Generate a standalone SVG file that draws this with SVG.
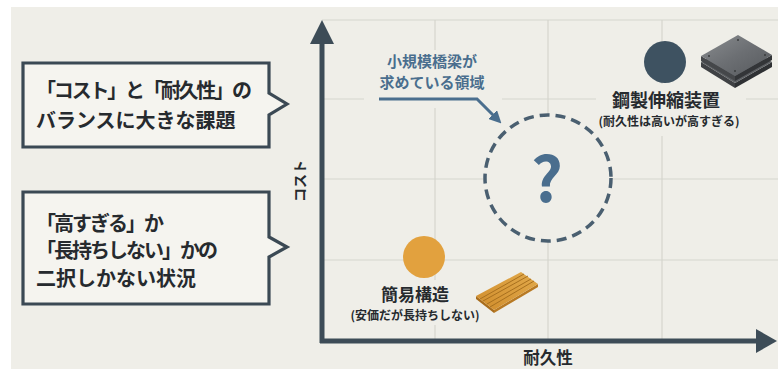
<svg xmlns="http://www.w3.org/2000/svg" width="778" height="369" viewBox="0 0 778 369">
  <defs>
    <style>
      .jp { font-family: "Noto Sans CJK JP", "Noto Sans", sans-serif; font-weight: 700; }
      .ink { fill: #262a2e; }
      .blue { fill: #4a6e8e; }
      .grid line { stroke: #d6d5cd; stroke-width: 1.2; }
      .box { fill: #f5f4ef; stroke: #3b4954; stroke-width: 3.2; stroke-linejoin: miter; }
      .axis { stroke: #3d4c57; stroke-width: 5; fill: none; }
      .axis-head { fill: #3d4c57; }
      .mask { fill: #efeee8; }
    </style>
    <marker id="arrow-blue" viewBox="0 0 10 10" refX="5" refY="5" markerWidth="4.2" markerHeight="4.2" orient="auto">
      <path d="M0,0 L10,5 L0,10 Z" fill="#4a6e8e"/>
    </marker>
    <linearGradient id="steel-top" x1="0" y1="0" x2="1" y2="1">
      <stop offset="0" stop-color="#8a8d90"/>
      <stop offset="0.5" stop-color="#6c6f73"/>
      <stop offset="1" stop-color="#56595d"/>
    </linearGradient>
    <linearGradient id="wood-top" x1="0" y1="1" x2="1" y2="0">
      <stop offset="0" stop-color="#d08d2c"/>
      <stop offset="1" stop-color="#e2aa4c"/>
    </linearGradient>
  </defs>

  <!-- page and panel background -->
  <rect width="778" height="369" fill="#ffffff"/>
  <rect x="11" y="7" width="767" height="362" fill="#efeee8"/>

  <!-- chart grid -->
  <g class="grid">
    <line x1="322" y1="20" x2="778" y2="20"/>
    <line x1="322" y1="99" x2="778" y2="99"/>
    <line x1="322" y1="179" x2="778" y2="179"/>
    <line x1="322" y1="260" x2="778" y2="260"/>
    <line x1="435" y1="20" x2="435" y2="341"/>
    <line x1="548" y1="20" x2="548" y2="341"/>
    <line x1="662" y1="20" x2="662" y2="341"/>
  </g>

  <!-- clear areas behind labels -->
  <rect class="mask" x="364" y="50" width="138" height="58"/>
  <rect class="mask" x="596" y="84" width="150" height="52"/>
  <rect class="mask" x="345" y="280" width="142" height="45"/>

  <!-- axes -->
  <g id="axes">
    <line class="axis" x1="322" y1="343" x2="322" y2="40"/>
    <polygon class="axis-head" points="310,44 322,20 334,44"/>
    <line class="axis" x1="320" y1="341" x2="758" y2="341"/>
    <polygon class="axis-head" points="756,329 777,341 756,353"/>
    <text class="jp ink" font-size="14" text-anchor="middle" transform="translate(305,181) rotate(-90)">コスト</text>
    <text class="jp ink" x="548" y="364" font-size="16.5" text-anchor="middle">耐久性</text>
  </g>

  <!-- callout boxes -->
  <g id="callout-balance">
    <path class="box" d="M23,63 H269 V93 L287,104 L269,115 V147 H23 Z"/>
    <text class="jp ink" x="36" y="98" font-size="20" textLength="216">「コスト」と「耐久性」の</text>
    <text class="jp ink" x="36" y="128" font-size="20">バランスに大きな課題</text>
  </g>
  <g id="callout-choice">
    <path class="box" d="M23,192 H269 V237 L287,247 L269,257 V304 H23 Z"/>
    <text class="jp ink" x="36" y="231" font-size="20" textLength="128">「高すぎる」か</text>
    <text class="jp ink" x="36" y="258" font-size="20" textLength="182">「長持ちしない」かの</text>
    <text class="jp ink" x="36" y="286" font-size="20">二択しかない状況</text>
  </g>

  <!-- target region -->
  <g id="target-region">
    <circle cx="548" cy="178" r="63" fill="#efeee8" stroke="#4a5f70" stroke-width="3.5" stroke-dasharray="10 6"/>
    <text class="jp blue" x="547" y="202" font-size="62" text-anchor="middle" font-family="'Noto Sans', sans-serif">?</text>
  </g>

  <g id="target-label">
    <text class="jp blue" x="432" y="67" font-size="15" text-anchor="middle">小規模橋梁が</text>
    <text class="jp blue" x="432" y="88" font-size="15" text-anchor="middle">求めている領域</text>
  </g>

  <!-- connectors -->
  <g id="connectors">
    <path d="M379,99 H477 L497,119" fill="none" stroke="#4a6e8e" stroke-width="3" marker-end="url(#arrow-blue)"/>
  </g>

  <!-- steel expansion joint -->
  <g id="node-steel">
    <circle cx="665" cy="62" r="21" fill="#3e5261"/>
    <!-- lower plate -->
    <polygon points="701,62 735,83 735,88 701,67" fill="#3f4144"/>
    <polygon points="735,83 772,62 772,67 735,88" fill="#2f3134"/>
    <polygon points="701,62 738,41 772,62 735,83" fill="#5c5f63"/>
    <!-- upper plate -->
    <polygon points="701,56 735,76 735,81 701,61" fill="#45474a"/>
    <polygon points="735,76 772,55 772,60 735,81" fill="#333538"/>
    <polygon points="701,56 738,35 772,55 735,76" fill="url(#steel-top)"/>
    <circle cx="709" cy="56" r="1" fill="#3a3c3e"/>
    <circle cx="738" cy="40" r="1" fill="#3a3c3e"/>
    <circle cx="765" cy="55" r="1" fill="#3a3c3e"/>
    <circle cx="735" cy="71" r="1" fill="#3a3c3e"/>
    <text class="jp ink" x="666" y="107" font-size="18" text-anchor="middle">鋼製伸縮装置</text>
    <text class="jp ink" x="669" y="126" font-size="12" text-anchor="middle">(耐久性は高いが高すぎる)</text>
  </g>

  <!-- simple structure -->
  <g id="node-simple">
    <circle cx="424" cy="257" r="21" fill="#e2a13e"/>
    <!-- wooden deck boards -->
    <polygon points="476,296 494,310 494,313 476,299" fill="#a86c1c"/>
    <polygon points="494,310 538,284 538,287 494,313" fill="#b87a24"/>
    <polygon points="476,296 521,272 538,284 494,310" fill="url(#wood-top)"/>
    <g stroke="#a8701f" stroke-width="1">
      <line x1="480" y1="299" x2="524" y2="274"/>
      <line x1="483" y1="301" x2="528" y2="276"/>
      <line x1="487" y1="304" x2="531" y2="279"/>
      <line x1="490" y1="307" x2="534" y2="281"/>
    </g>
    <text class="jp ink" x="415" y="301" font-size="17" text-anchor="middle">簡易構造</text>
    <text class="jp ink" x="415" y="320" font-size="12" text-anchor="middle">(安価だが長持ちしない)</text>
  </g>
</svg>
